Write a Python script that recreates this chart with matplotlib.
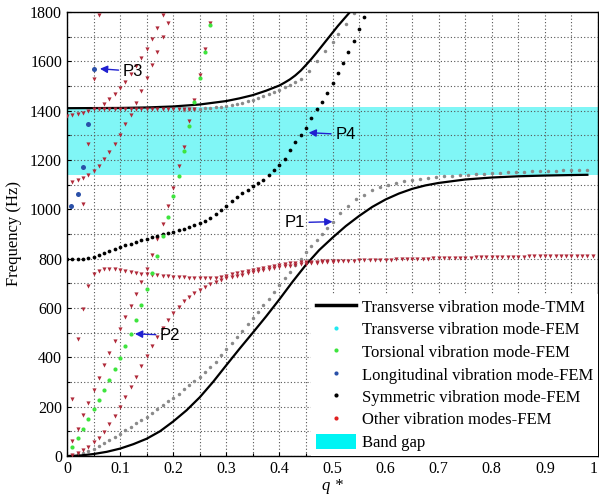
import matplotlib
matplotlib.use("Agg")
import matplotlib.pyplot as plt
from matplotlib.lines import Line2D
from matplotlib.patches import Patch
from matplotlib.ticker import MultipleLocator

# ---- data ----
# transverse mode, transfer matrix method (two branches)
tmm_low_q = [0, 0.025, 0.05, 0.075, 0.10, 0.125, 0.15, 0.175, 0.20, 0.225, 0.25, 0.275,
             0.30, 0.325, 0.35, 0.375, 0.40, 0.425, 0.45, 0.475, 0.50, 0.525, 0.55,
             0.575, 0.60, 0.625, 0.65, 0.675, 0.70, 0.75, 0.80, 0.85, 0.90, 0.95, 0.98]
tmm_low_f = [0, 2, 8, 17, 30, 48, 70, 100, 140, 185, 238, 300,
             368, 435, 500, 566, 635, 707, 775, 835, 885, 932, 973,
             1010, 1040, 1064, 1083, 1097, 1107, 1121, 1129, 1134, 1137, 1139, 1140]
tmm_up_q = [0, 0.10, 0.15, 0.20, 0.25, 0.30, 0.325, 0.35, 0.375, 0.40, 0.41, 0.42,
            0.43, 0.44, 0.45, 0.46, 0.47, 0.48, 0.49, 0.50, 0.51, 0.52, 0.533]
tmm_up_f = [1410, 1411, 1413, 1417, 1425, 1439, 1450, 1463, 1481, 1502, 1514, 1527,
            1543, 1562, 1585, 1609, 1635, 1662, 1689, 1716, 1743, 1768, 1800]

# transverse mode, FEM
tr_low_q = [0.02, 0.03, 0.04, 0.05, 0.06, 0.07, 0.08, 0.09, 0.10, 0.11, 0.12, 0.13,
            0.14, 0.15, 0.16, 0.17, 0.18, 0.19, 0.20, 0.21, 0.22, 0.23, 0.24, 0.25,
            0.26, 0.27, 0.28, 0.29, 0.30, 0.31, 0.32, 0.33, 0.34, 0.35, 0.36, 0.37,
            0.38, 0.39, 0.40, 0.41, 0.42, 0.43, 0.44, 0.45, 0.46, 0.47, 0.48, 0.49,
            0.50, 0.515, 0.53, 0.545, 0.56, 0.575, 0.59, 0.605, 0.62, 0.635, 0.65,
            0.665, 0.68, 0.695, 0.71, 0.725, 0.74, 0.755, 0.77, 0.785, 0.80, 0.815,
            0.83, 0.845, 0.86, 0.875, 0.89, 0.905, 0.92, 0.935, 0.95, 0.965, 0.98]
tr_low_f = [8, 14, 22, 30, 40, 52, 64, 77, 90, 104, 118, 132,
            146, 160, 175, 190, 205, 221, 237, 253, 270, 287, 305, 322,
            340, 361, 383, 408, 433, 457, 482, 508, 534, 560, 585, 612,
            638, 665, 692, 720, 747, 775, 800, 826, 852, 877, 900, 925,
            950, 985, 1015, 1040, 1060, 1077, 1090, 1100, 1108, 1115, 1120,
            1125, 1129, 1132, 1135, 1137, 1139, 1141, 1143, 1145, 1147, 1149,
            1150, 1152, 1153, 1154, 1155, 1156, 1157, 1158, 1159, 1160, 1161]
tr_up_q = [0.22, 0.23, 0.24, 0.25, 0.26, 0.27, 0.28, 0.29, 0.30, 0.31, 0.32, 0.33,
           0.34, 0.35, 0.36, 0.37, 0.38, 0.39, 0.40, 0.41, 0.42, 0.43, 0.44, 0.455,
           0.47, 0.485, 0.50, 0.51, 0.525, 0.54]
tr_up_f = [1404, 1405, 1406, 1407, 1409, 1411, 1413, 1415, 1419, 1424, 1428, 1433,
           1439, 1445, 1451, 1458, 1466, 1475, 1484, 1494, 1504, 1515, 1527, 1560,
           1600, 1640, 1680, 1710, 1752, 1797]

# torsional mode, FEM
tor_q = [0.01, 0.02, 0.03, 0.04, 0.05, 0.06, 0.07, 0.08, 0.09, 0.10, 0.11, 0.12, 0.13, 0.14,
         0.15, 0.16, 0.17, 0.18, 0.19, 0.20, 0.21, 0.22, 0.23, 0.24, 0.25, 0.26, 0.27]
tor_f = [35, 74, 111, 152, 190, 227, 268, 309, 353, 397, 447, 495, 552, 611,
         676, 743, 812, 890, 969, 1053, 1134, 1235, 1337, 1435, 1531, 1637, 1746]

# longitudinal mode, FEM
lon_q = [0.008, 0.02, 0.03, 0.04, 0.051]
lon_f = [1013, 1063, 1172, 1345, 1570]

# symmetric mode, FEM
sym_q = [0.00, 0.01, 0.02, 0.03, 0.04, 0.05, 0.06, 0.07, 0.08, 0.09, 0.10, 0.11, 0.12,
         0.13, 0.14, 0.15, 0.16, 0.17, 0.18, 0.19, 0.20, 0.21, 0.22, 0.23, 0.24, 0.25,
         0.26, 0.27, 0.28, 0.29, 0.30, 0.31, 0.32, 0.33, 0.34, 0.35, 0.36, 0.37, 0.38,
         0.39, 0.40, 0.41, 0.42, 0.43, 0.44, 0.45, 0.46, 0.47, 0.48, 0.49, 0.50, 0.51,
         0.52, 0.53, 0.54, 0.55, 0.56]
sym_f = [800, 799, 799, 798, 801, 807, 816, 825, 833, 840, 847, 854, 861,
         868, 874, 880, 887, 893, 899, 904, 909, 915, 921, 928, 936, 944,
         953, 965, 982, 998, 1015, 1032, 1049, 1066, 1080, 1093, 1105, 1118, 1140,
         1160, 1180, 1205, 1240, 1275, 1300, 1330, 1370, 1405, 1436, 1472, 1512, 1553,
         1595, 1638, 1683, 1730, 1778]

# other modes, FEM (several branches)
oa_q = [0.01, 0.02, 0.03, 0.04, 0.05, 0.06, 0.07, 0.08, 0.09, 0.10, 0.11, 0.12, 0.13,
        0.14, 0.15, 0.16, 0.17, 0.18, 0.19, 0.20, 0.21, 0.22, 0.23, 0.24, 0.25, 0.26,
        0.27, 0.28, 0.29, 0.30, 0.31, 0.32, 0.33, 0.34, 0.35, 0.36, 0.37, 0.38, 0.39,
        0.40, 0.41, 0.42, 0.43, 0.44, 0.45, 0.46, 0.47, 0.48, 0.49, 0.50, 0.51, 0.52,
        0.53, 0.54, 0.55, 0.56, 0.57, 0.58, 0.59, 0.60, 0.61, 0.62, 0.63, 0.64, 0.65,
        0.66, 0.67, 0.68, 0.69, 0.70, 0.71, 0.72, 0.73, 0.74, 0.75, 0.76, 0.77, 0.78,
        0.79, 0.80, 0.81, 0.82, 0.83, 0.84, 0.85, 0.86, 0.87, 0.88, 0.89, 0.90, 0.91,
        0.92, 0.93, 0.94, 0.95, 0.96, 0.97, 0.98, 0.99]
oa_f = [230, 475, 597, 690, 738, 752, 757, 758, 757, 753, 749, 745, 741,
        738, 736, 734, 732, 730, 728, 727, 725, 724, 723, 722, 722, 722,
        722, 723, 726, 730, 736, 741, 746, 751, 755, 760, 764, 768, 772,
        775, 778, 781, 783, 785, 786, 787, 788, 789, 789, 790, 790, 791,
        792, 792, 793, 793, 794, 795, 795, 796, 796, 797, 797, 798, 798,
        799, 800, 800, 801, 801, 802, 802, 803, 803, 804, 804, 805, 805,
        806, 806, 806, 807, 807, 808, 808, 808, 809, 809, 809, 810, 810,
        810, 811, 811, 811, 811, 812, 812, 812]
ob_q = [0.01, 0.02, 0.03, 0.04, 0.05, 0.06, 0.07, 0.08, 0.09, 0.10, 0.11, 0.12, 0.13, 0.14,
        0.15, 0.16, 0.17, 0.18, 0.19, 0.20, 0.21, 0.22, 0.23, 0.24, 0.25, 0.26, 0.27]
ob_f = [60, 110, 166, 216, 268, 318, 369, 419, 468, 516, 563, 610, 658, 706,
        760, 816, 878, 940, 1012, 1087, 1175, 1253, 1357, 1445, 1543, 1648, 1754]
oc_q = [0.01, 0.02, 0.03, 0.04, 0.05, 0.06, 0.07, 0.08, 0.09, 0.10, 0.11, 0.12, 0.13,
        0.14, 0.15, 0.16, 0.17, 0.18, 0.19, 0.20, 0.21, 0.22, 0.23, 0.24, 0.25, 0.26,
        0.27, 0.28, 0.29, 0.30, 0.31, 0.32, 0.33, 0.34, 0.35, 0.36, 0.37, 0.38, 0.39,
        0.40, 0.41, 0.42, 0.43, 0.44, 0.45, 0.46, 0.47, 0.48, 0.49, 0.50]
oc_f = [4, 12, 24, 38, 55, 75, 99, 130, 164, 200, 240, 281, 322,
        365, 406, 444, 482, 518, 552, 579, 606, 627, 643, 660, 675, 686,
        697, 707, 715, 721, 726, 730, 735, 740, 744, 749, 753, 757, 761,
        765, 769, 772, 775, 778, 780, 782, 784, 785, 786, 787]
od_q = [0.00, 0.01, 0.02, 0.03, 0.04, 0.05, 0.06, 0.07, 0.08, 0.09, 0.10, 0.11, 0.12,
        0.13, 0.14, 0.15, 0.16, 0.17, 0.18, 0.19, 0.20, 0.21, 0.22, 0.23, 0.24]
od_f = [1380, 1383, 1385, 1390, 1400, 1406, 1408, 1408, 1408, 1408, 1408, 1408, 1408,
        1408, 1408, 1408, 1408, 1408, 1408, 1408, 1408, 1408, 1408, 1408, 1408]
oe_q = [0.01, 0.02, 0.03, 0.04, 0.05, 0.06, 0.07, 0.08, 0.09, 0.10, 0.11, 0.12, 0.13,
        0.14, 0.15, 0.16, 0.17, 0.18, 0.19]
oe_f = [1110, 1118, 1127, 1140, 1157, 1177, 1204, 1233, 1265, 1302, 1344, 1384, 1432,
        1479, 1531, 1585, 1639, 1698, 1754]
og_q = [0.07, 0.08, 0.09, 0.10, 0.11, 0.12, 0.13, 0.14, 0.15, 0.16, 0.17, 0.18]
og_f = [1428, 1448, 1468, 1490, 1518, 1547, 1580, 1615, 1651, 1692, 1736, 1788]
oh_q = [0.03, 0.04, 0.05, 0.06]
oh_f = [1020, 1265, 1527, 1788]

gap_low, gap_high = 1138, 1415

xtick_vals = [0, 0.1, 0.2, 0.3, 0.4, 0.5, 0.6, 0.7, 0.8, 0.9, 1.0]
xtick_text = ['0', '0.1', '0.2', '0.3', '0.4', '0.5', '0.6', '0.7', '0.8', '0.9', '1']

# ---- figure ----
plt.rcParams['font.family'] = ['Liberation Serif', 'DejaVu Serif']
fig = plt.figure(figsize=(5.99, 4.96), dpi=100)
ax = fig.add_axes([67 / 599, 40 / 496, 531 / 599, 444 / 496])

ax.axhspan(gap_low, gap_high, color='#80f6f6', lw=0, zorder=0.2)

red = '#b02a3a'
for q, f in [(oa_q, oa_f), (ob_q, ob_f), (oc_q, oc_f), (od_q, od_f),
             (oe_q, oe_f), (og_q, og_f), (oh_q, oh_f)]:
    ax.plot(q, f, ls='none', marker='v', ms=3.0, color=red, mew=0, zorder=3)

ax.plot(tr_low_q, tr_low_f, ls='none', marker='o', ms=2.5, color='#8a8a8a', mew=0, zorder=2)
ax.plot(tr_up_q, tr_up_f, ls='none', marker='o', ms=2.5, color='#8a8a8a', mew=0, zorder=2)
ax.plot(sym_q, sym_f, ls='none', marker='o', ms=2.7, color='black', mew=0, zorder=3)
ax.plot(tor_q, tor_f, ls='none', marker='o', ms=3.0, color='#3ee43e', mew=0, zorder=4)
ax.plot(lon_q, lon_f, ls='none', marker='o', ms=3.6, color='#2a50a8', mew=0, zorder=4)

ax.plot(tmm_low_q, tmm_low_f, color='black', lw=1.6, zorder=2.5)
ax.plot(tmm_up_q, tmm_up_f, color='black', lw=1.6, zorder=2.5)

# point labels
arrow = dict(arrowstyle='-|>', color='#2020d0', lw=1.0, mutation_scale=11, shrinkA=1, shrinkB=0)
for name, xy, xyt in [('P3', (0.062, 1570), (0.105, 1560)),
                      ('P4', (0.455, 1311), (0.505, 1303)),
                      ('P2', (0.128, 495), (0.175, 490))]:
    ax.annotate(name, xy=xy, xytext=xyt, ha='left', va='center', fontsize=12,
                family='Liberation Sans', arrowprops=arrow, zorder=6)
ax.annotate('P1', xy=(0.50, 950), xytext=(0.448, 946), ha='right', va='center',
            fontsize=12, family='Liberation Sans', arrowprops=arrow, zorder=6)

ax.set_xlim(0, 1)
ax.set_ylim(0, 1800)
ax.set_xticks(xtick_vals, xtick_text)
ax.xaxis.set_minor_locator(MultipleLocator(0.05))
ax.yaxis.set_major_locator(MultipleLocator(200))
ax.yaxis.set_minor_locator(MultipleLocator(100))
ax.tick_params(which='both', direction='in', labelsize=11.5, length=3, width=0.8)
ax.tick_params(which='minor', length=2)
ax.get_xticklabels()[-1].set_ha('right')
ax.grid(which='both', ls=(0, (1, 2)), color='#555555', lw=0.8)
ax.set_axisbelow(True)
for s in ax.spines.values():
    s.set_linewidth(1.0)

ax.set_xlabel('q *', style='italic', fontsize=12, labelpad=1)
ax.set_ylabel('Frequency (Hz)', fontsize=12, labelpad=6)

handles = [
    Line2D([], [], color='black', lw=2.5),
    Line2D([], [], ls='none', marker='o', ms=3, color='#22e8f0', mew=0),
    Line2D([], [], ls='none', marker='o', ms=3, color='#3ee43e', mew=0),
    Line2D([], [], ls='none', marker='o', ms=3, color='#2a50a8', mew=0),
    Line2D([], [], ls='none', marker='o', ms=3, color='black', mew=0),
    Line2D([], [], ls='none', marker='o', ms=3, color='#e02020', mew=0),
    Patch(facecolor='#00f4f4', edgecolor='none'),
]
labels = ['Transverse vibration mode-TMM', 'Transverse vibration mode-FEM',
          'Torsional vibration mode-FEM', 'Longitudinal vibration mode-FEM',
          'Symmetric vibration mode-FEM', 'Other vibration modes-FEM', 'Band gap']
leg = ax.legend(handles, labels, loc='lower right', bbox_to_anchor=(1.0, 0.0),
                fontsize=12, frameon=True, facecolor='white', edgecolor='none',
                framealpha=1, fancybox=False, borderaxespad=0.0, borderpad=0.3,
                labelspacing=0.32, handlelength=2.4, handletextpad=0.35, handleheight=1.0)
leg.set_zorder(10)

fig.savefig('out.png', dpi=100)
